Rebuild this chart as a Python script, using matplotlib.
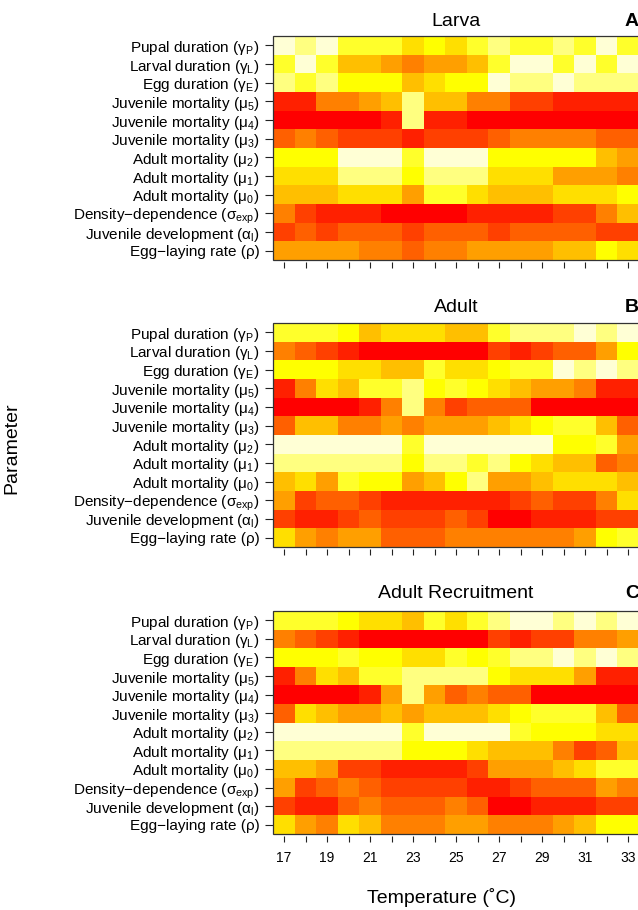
import matplotlib
matplotlib.use("Agg")
import matplotlib.pyplot as plt
from matplotlib.colors import ListedColormap
from matplotlib.patches import Rectangle
import numpy as np

plt.rcParams['font.family'] = ['Liberation Sans', 'DejaVu Sans']

# Temperatures (columns) and parameters (rows, top to bottom)
temps = list(range(17, 34))
params = ['Pupal duration (γ$_\\mathregular{P}$)',
          'Larval duration (γ$_\\mathregular{L}$)',
          'Egg duration (γ$_\\mathregular{E}$)',
          'Juvenile mortality (μ$_\\mathregular{5}$)',
          'Juvenile mortality (μ$_\\mathregular{4}$)',
          'Juvenile mortality (μ$_\\mathregular{3}$)',
          'Adult mortality (μ$_\\mathregular{2}$)',
          'Adult mortality (μ$_\\mathregular{1}$)',
          'Adult mortality (μ$_\\mathregular{0}$)',
          'Density−dependence (σ$_\\mathregular{exp}$)',
          'Juvenile development (α$_\\mathregular{l}$)',
          'Egg−laying rate (ρ)']

# Sensitivity rank (0 = most sensitive, red ... 11 = least, pale yellow)
# one inner list per temperature, parameters in the order above
larva = [
    [11, 9, 10, 1, 0, 3, 8, 7, 6, 4, 2, 5],
    [10, 11, 9, 1, 0, 4, 8, 7, 6, 2, 3, 5],
    [11, 9, 10, 4, 0, 3, 8, 7, 6, 1, 2, 5],
    [9, 6, 8, 4, 0, 2, 11, 10, 7, 1, 3, 5],
    [9, 6, 8, 5, 0, 2, 11, 10, 7, 1, 3, 4],
    [9, 5, 8, 6, 1, 2, 11, 10, 7, 0, 3, 4],
    [7, 4, 6, 10, 10, 1, 9, 8, 5, 0, 2, 3],
    [8, 5, 7, 6, 1, 2, 11, 10, 9, 0, 3, 4],
    [7, 5, 8, 6, 1, 2, 11, 10, 9, 0, 3, 4],
    [9, 6, 8, 4, 0, 2, 11, 10, 7, 1, 3, 5],
    [10, 9, 11, 4, 0, 3, 8, 7, 6, 1, 2, 5],
    [9, 11, 10, 2, 0, 4, 8, 7, 6, 1, 3, 5],
    [9, 11, 10, 2, 0, 4, 8, 7, 6, 1, 3, 5],
    [10, 9, 11, 1, 0, 4, 8, 5, 7, 2, 3, 6],
    [9, 11, 10, 1, 0, 4, 8, 5, 7, 2, 3, 6],
    [11, 9, 10, 1, 0, 3, 6, 5, 7, 4, 2, 8],
    [9, 11, 10, 1, 0, 3, 5, 4, 8, 6, 2, 7],
]

adult = [
    [9, 4, 8, 1, 0, 3, 11, 10, 6, 5, 2, 7],
    [9, 3, 8, 4, 0, 6, 11, 10, 7, 2, 1, 5],
    [9, 2, 8, 7, 0, 6, 11, 10, 5, 3, 1, 4],
    [8, 1, 7, 6, 0, 4, 11, 10, 9, 3, 2, 5],
    [6, 0, 7, 9, 1, 4, 11, 10, 8, 2, 3, 5],
    [7, 0, 6, 9, 4, 5, 11, 10, 8, 1, 2, 3],
    [7, 0, 6, 10, 10, 4, 9, 8, 5, 1, 2, 3],
    [7, 0, 9, 8, 4, 5, 11, 10, 6, 1, 2, 3],
    [6, 0, 7, 9, 2, 5, 11, 10, 8, 1, 3, 4],
    [6, 0, 7, 8, 3, 5, 11, 9, 10, 1, 2, 4],
    [9, 2, 8, 7, 3, 6, 11, 10, 5, 1, 0, 4],
    [10, 1, 9, 6, 3, 7, 11, 8, 5, 2, 0, 4],
    [10, 2, 9, 5, 0, 8, 11, 7, 6, 3, 1, 4],
    [10, 3, 11, 5, 0, 9, 8, 6, 7, 2, 1, 4],
    [11, 3, 10, 4, 0, 9, 8, 6, 7, 2, 1, 5],
    [10, 5, 11, 1, 0, 6, 9, 3, 7, 4, 2, 8],
    [11, 8, 10, 1, 0, 3, 5, 4, 6, 7, 2, 9],
]

recruit = [
    [9, 4, 8, 1, 0, 3, 11, 10, 6, 5, 2, 7],
    [9, 3, 8, 4, 0, 7, 11, 10, 6, 2, 1, 5],
    [9, 2, 8, 7, 0, 6, 11, 10, 5, 3, 1, 4],
    [8, 1, 9, 6, 0, 5, 11, 10, 2, 4, 3, 7],
    [7, 0, 8, 9, 1, 5, 11, 10, 2, 3, 4, 6],
    [7, 0, 8, 9, 5, 6, 11, 10, 1, 2, 3, 4],
    [6, 0, 7, 10, 10, 5, 9, 8, 1, 2, 3, 4],
    [9, 0, 7, 10, 5, 6, 11, 8, 1, 2, 3, 4],
    [7, 0, 9, 10, 3, 6, 11, 8, 1, 2, 4, 5],
    [9, 0, 8, 10, 4, 6, 11, 7, 2, 1, 3, 5],
    [10, 2, 9, 8, 3, 7, 11, 6, 5, 1, 0, 4],
    [11, 1, 10, 7, 3, 8, 9, 6, 5, 2, 0, 4],
    [11, 2, 10, 7, 0, 9, 8, 6, 5, 3, 1, 4],
    [10, 2, 11, 7, 0, 9, 8, 4, 6, 3, 1, 5],
    [11, 4, 10, 5, 0, 9, 8, 2, 7, 3, 1, 6],
    [10, 4, 11, 1, 0, 6, 7, 3, 9, 5, 2, 8],
    [11, 5, 10, 1, 0, 3, 7, 6, 9, 4, 2, 8],
]

panels = [('Larva', 'A', larva), ('Adult', 'B', adult),
          ('Adult Recruitment', 'C', recruit)]

# R-style heat.colors(12): red -> yellow, then yellow fading to cream
heat = [(1.0, k / 8, 0.0) for k in range(9)]
heat += [(1.0, 1.0, b) for b in (1 / 6, 0.5, 5 / 6)]
cmap = ListedColormap(heat)

W, H = 638, 910
fig = plt.figure(figsize=(W / 100, H / 100), dpi=100)

left, right = 273.25, 638.75
tops = [36, 323, 611]
bots = [260, 547, 834]
title_base = [26, 312, 598]

for i, (title, letter, ranks) in enumerate(panels):
    ax = fig.add_axes([left / W, 1 - bots[i] / H, (right - left) / W,
                       (bots[i] - tops[i]) / H])
    data = np.array(ranks).T
    ax.pcolormesh(temps, np.arange(len(params)), data, cmap=cmap,
                  vmin=-0.5, vmax=11.5, shading='nearest')
    ax.set_xlim(16.5, 33.5)
    ax.set_ylim(len(params) - 0.5, -0.5)

    ax.set_yticks(np.arange(len(params)))
    ax.set_yticklabels(params, fontsize=11)
    ax.set_xticks(temps)
    if i == 2:
        ax.set_xticklabels([str(t) if t % 2 == 1 else '' for t in temps],
                           fontsize=11.5)
    else:
        ax.set_xticklabels([])
    ax.tick_params(axis='y', length=6, width=0.8, pad=4, color='#222222')
    ax.tick_params(axis='x', length=4.5, width=0.8, pad=6, color='#222222')

    for s in ax.spines.values():
        s.set_visible(False)
    ax.spines['bottom'].set_position(('outward', 1.5))
    ax.add_patch(Rectangle((0, 0), 1, 1, transform=ax.transAxes, fill=False,
                           lw=0.9, edgecolor='#333333', clip_on=False,
                           zorder=5))

    cx = (left + right) / 2 / W
    fig.text(cx, 1 - title_base[i] / H, title, fontsize=14,
             ha='center', va='baseline')
    fig.text(625 / W, 1 - title_base[i] / H, letter, fontsize=14,
             fontweight='bold', ha='left', va='baseline')

fig.text(442 / W, 1 - 903 / H, 'Temperature (˚C)', fontsize=14,
         ha='center', va='baseline')
fig.text(12 / W, 1 - 448 / H, 'Parameter', fontsize=14, rotation=90,
         ha='center', va='center')

fig.savefig('out.png', dpi=100)
